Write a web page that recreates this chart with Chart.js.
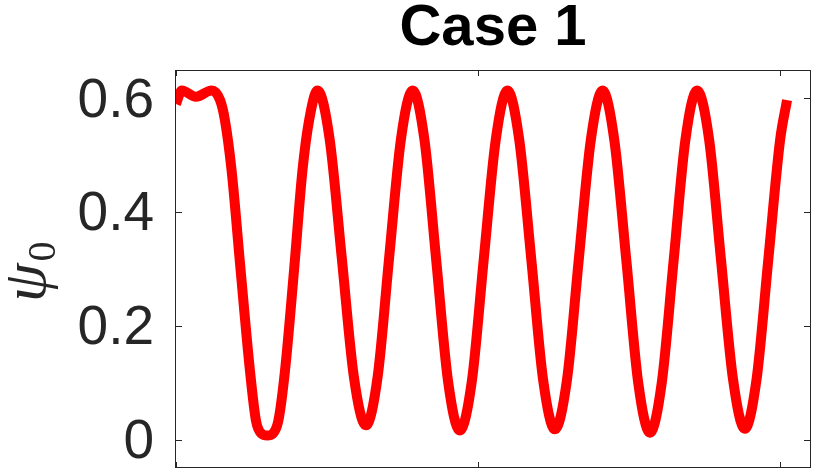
<!DOCTYPE html>
<html>
<head>
<meta charset="utf-8">
<script src="https://cdn.jsdelivr.net/npm/chart.js@4.4.1/dist/chart.umd.min.js"></script>
<style>
  html, body { margin: 0; padding: 0; background: #fff; overflow: hidden; }
  #wrap { position: relative; width: 816px; height: 530px; }
</style>
</head>
<body>
<div id="wrap"><canvas id="chart"></canvas></div>
<script>
// values
const xVals = [
  0.000, 0.019, 0.066, 0.118, 0.146, 0.162, 0.184, 0.214, 0.245, 0.265, 0.284, 0.302, 0.320,
  0.339, 0.361, 0.391, 0.419, 0.441, 0.469,
  0.509, 0.549, 0.589, 0.629, 0.668, 0.706, 0.745, 0.784,
  0.823, 0.862, 0.901, 0.940, 0.980, 1.019, 1.059, 1.098,
  1.137, 1.177, 1.216, 1.255, 1.295, 1.334, 1.374, 1.413,
  1.452, 1.492, 1.531, 1.570, 1.609, 1.648, 1.687, 1.726,
  1.766, 1.805, 1.845, 1.884, 1.923, 1.962, 2.001, 2.024
];
const psiVals = [
  0.590, 0.614, 0.603, 0.614, 0.597, 0.562, 0.474, 0.298, 0.121, 0.033, 0.010, 0.007, 0.010,
  0.033, 0.121, 0.298, 0.474, 0.562, 0.614,
  0.528, 0.320, 0.111, 0.025, 0.111, 0.320, 0.528, 0.614,
  0.527, 0.315, 0.103, 0.016, 0.103, 0.315, 0.527, 0.614,
  0.527, 0.316, 0.105, 0.018, 0.105, 0.316, 0.527, 0.614,
  0.526, 0.313, 0.100, 0.012, 0.100, 0.313, 0.526, 0.614,
  0.527, 0.317, 0.106, 0.019, 0.106, 0.317, 0.527, 0.597
];
const yTicks = [0, 0.2, 0.4, 0.6];
const xTicks = [0, 1, 2];
const titleText = 'Case 1';
const yLabelSymbol = 'ψ';
const yLabelSub = '0';

const axisColor = '#262626';

// matlab style box with inward ticks on all four sides
const boxPlugin = {
  id: 'box',
  beforeDatasetsDraw(chart) {
    const { ctx, chartArea: a, scales } = chart;
    const len = 6;
    ctx.save();
    ctx.strokeStyle = axisColor;
    ctx.lineWidth = 1;
    ctx.strokeRect(Math.round(a.left) - 0.5, Math.round(a.top) + 0.5,
      Math.round(a.right - a.left) + 1, Math.round(a.bottom - a.top) - 1);
    ctx.beginPath();
    yTicks.forEach(v => {
      const py = Math.round(scales.y.getPixelForValue(v)) + 0.5;
      ctx.moveTo(a.left, py); ctx.lineTo(a.left + len, py);
      ctx.moveTo(a.right, py); ctx.lineTo(a.right - len, py);
    });
    xTicks.forEach(v => {
      const px = Math.round(scales.x.getPixelForValue(v)) + 0.5;
      ctx.moveTo(px, a.bottom); ctx.lineTo(px, a.bottom - len);
      ctx.moveTo(px, a.top); ctx.lineTo(px, a.top + len);
    });
    ctx.stroke();
    ctx.restore();
  },
  // y label: italic psi with upright subscript 0, rotated
  afterDraw(chart) {
    const { ctx } = chart;
    ctx.save();
    ctx.translate(45, 302);
    ctx.rotate(-Math.PI / 2);
    ctx.fillStyle = axisColor;
    ctx.textAlign = 'left';
    ctx.textBaseline = 'alphabetic';
    ctx.font = "italic 62px 'Liberation Serif', 'DejaVu Serif', serif";
    const w = ctx.measureText(yLabelSymbol).width;
    ctx.fillText(yLabelSymbol, 0, 0);
    ctx.font = "40px 'Liberation Serif', 'DejaVu Serif', serif";
    ctx.fillText(yLabelSub, w + 2, 10);
    ctx.restore();
  }
};

new Chart(document.getElementById('chart'), {
  type: 'line',
  data: {
    datasets: [{
      data: xVals.map((x, i) => ({ x: x, y: psiVals[i] })),
      borderColor: '#ff0000',
      borderWidth: 10,
      pointRadius: 0,
      cubicInterpolationMode: 'monotone',
      fill: false
    }]
  },
  options: {
    responsive: true,
    maintainAspectRatio: false,
    animation: false,
    layout: { padding: { left: 0, right: 6, top: 0, bottom: 62 } },
    plugins: {
      legend: { display: false },
      tooltip: { enabled: false },
      title: {
        display: true,
        text: titleText,
        fullSize: false,
        color: '#000',
        font: { family: "'Liberation Sans', Arial, sans-serif", size: 58, weight: 'bold', lineHeight: 1 },
        padding: { top: 0, bottom: 12 }
      }
    },
    scales: {
      x: {
        type: 'linear',
        min: 0,
        max: 2.1,
        ticks: { display: false, stepSize: 1, includeBounds: false },
        grid: { display: false, drawTicks: false },
        border: { display: false }
      },
      y: {
        type: 'linear',
        min: -0.05,
        max: 0.65,
        afterFit(scale) { scale.width = 176; },
        afterBuildTicks(scale) { scale.ticks = yTicks.map(v => ({ value: v })); },
        ticks: {
          color: axisColor,
          padding: 22,
          labelOffset: 3,
          font: { family: "'Liberation Sans', Arial, sans-serif", size: 55 },
          callback: v => String(v)
        },
        grid: { display: false, drawTicks: false },
        border: { display: false }
      }
    }
  },
  plugins: [boxPlugin]
});
</script>
</body>
</html>
